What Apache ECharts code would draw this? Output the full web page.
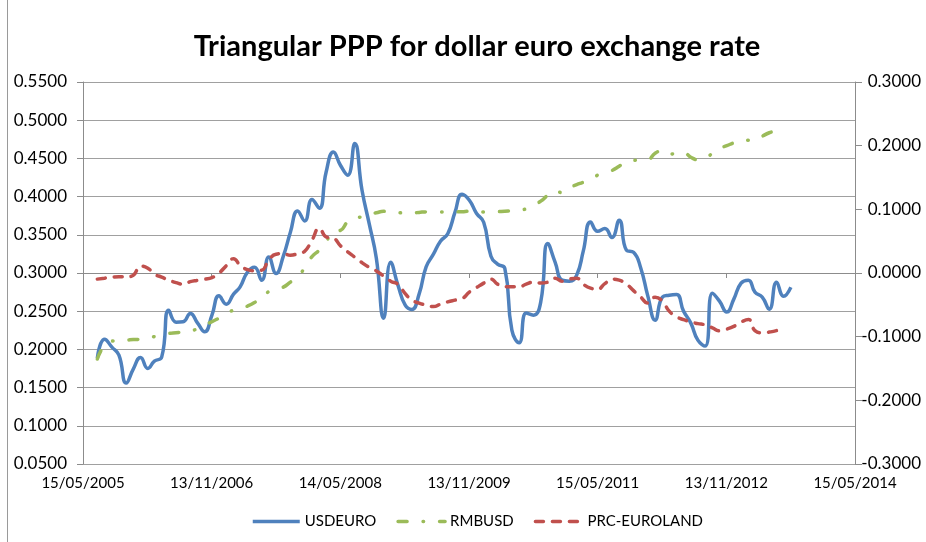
<!DOCTYPE html>
<html><head><meta charset="utf-8">
<script src="https://cdn.jsdelivr.net/npm/echarts@6/dist/echarts.min.js"></script>
<style>html,body{margin:0;padding:0;background:#fff}#c{width:926px;height:542px}</style>
</head><body><div id="c"></div>
<script>
const titleText = 'Triangular PPP for dollar euro exchange rate';
const seriesNames = ['USDEURO', 'RMBUSD', 'PRC-EUROLAND'];
const firstYear = 2005, firstMonthIndex = 6, monthCount = 98; // monthly from Jul 2005
const xTickLabels = ['15/05/2005','13/11/2006','14/05/2008','13/11/2009','15/05/2011','13/11/2012','15/05/2014'];
const leftTicks = { min: 0.05, max: 0.55, step: 0.05 };
const rightTicks = { min: -0.3, max: 0.3, step: 0.1 };

const usdEuro = [
0.1886,0.2134,0.2030,0.1925,0.1559,0.1742,0.1895,0.1751,0.1847,0.1899,
0.2514,0.2357,0.2361,0.2471,0.2344,0.2230,0.2448,0.2701,0.2592,0.2723,
0.2819,0.3011,0.3076,0.2906,0.3211,0.2994,0.3220,0.3534,0.3813,0.3682,
0.3962,0.3848,0.4319,0.4584,0.4410,0.4280,0.4694,0.4083,0.3639,0.3194,
0.2409,0.3142,0.2841,0.2579,0.2523,0.2723,0.3080,0.3246,0.3416,0.3514,
0.3796,0.4031,0.3953,0.3783,0.3665,0.3220,0.3116,0.3059,0.2252,0.2086,
0.2475,0.2448,0.2622,0.3386,0.3142,0.2906,0.2893,0.2972,0.3286,0.3669,
0.3547,0.3582,0.3465,0.3691,0.3299,0.3272,0.3063,0.2697,0.2383,0.2684,
0.2710,0.2719,0.2501,0.2344,0.2121,0.2043,0.2736,0.2632,0.2488,0.2658,
0.2867,0.2906,0.2749,0.2684,0.2527,0.2880,0.2697,0.2815];

const rmbUsd = [
-0.1352,-0.1132,-0.1070,-0.1062,-0.1054,-0.1046,-0.1038,-0.1015,-0.0999,-0.0975,
-0.0949,-0.0938,-0.0928,-0.0913,-0.0873,-0.0818,-0.0763,-0.0709,-0.0638,-0.0583,
-0.0556,-0.0520,-0.0465,-0.0379,-0.0293,-0.0253,-0.0222,-0.0144,-0.0065,0.0084,
0.0257,0.0359,0.0492,0.0652,0.0669,0.0806,0.0872,0.0881,0.0927,0.0947,
0.0968,0.0958,0.0947,0.0944,0.0944,0.0952,0.0960,0.0960,0.0960,0.0960,
0.0960,0.0963,0.0971,0.0963,0.0960,0.0960,0.0963,0.0971,0.0974,0.0982,
0.1010,0.1065,0.1128,0.1222,0.1292,0.1261,0.1340,0.1387,0.1426,0.1473,
0.1536,0.1578,0.1610,0.1677,0.1748,0.1768,0.1776,0.1782,0.1881,0.1920,
0.1865,0.1881,0.1892,0.1818,0.1779,0.1803,0.1881,0.1959,0.1999,0.2046,
0.2085,0.2085,0.2085,0.2148,0.2203,0.2234,0.2253];

const prcEuroland = [
-0.0096,-0.0081,-0.0065,-0.0060,-0.0060,-0.0034,0.0108,0.0076,-0.0018,-0.0065,
-0.0112,-0.0151,-0.0175,-0.0136,-0.0115,-0.0096,-0.0073,-0.0002,0.0115,0.0225,
0.0123,0.0053,0.0037,0.0045,0.0202,0.0296,0.0304,0.0280,0.0304,0.0343,
0.0516,0.0704,0.0567,0.0547,0.0429,0.0332,0.0249,0.0162,0.0089,0.0032,
-0.0049,-0.0128,-0.0178,-0.0324,-0.0426,-0.0473,-0.0504,-0.0528,-0.0489,-0.0453,
-0.0426,-0.0402,-0.0300,-0.0230,-0.0159,-0.0096,-0.0175,-0.0217,-0.0217,-0.0217,
-0.0175,-0.0144,-0.0159,-0.0144,-0.0081,-0.0128,-0.0096,-0.0081,-0.0175,-0.0238,
-0.0253,-0.0167,-0.0096,-0.0112,-0.0175,-0.0277,-0.0379,-0.0473,-0.0379,-0.0442,
-0.0599,-0.0688,-0.0732,-0.0771,-0.0795,-0.0815,-0.0862,-0.0908,-0.0881,-0.0839,
-0.0771,-0.0729,-0.0905,-0.0939,-0.0928,-0.0905,-0.0866];

function parseDMY(s){ const p = s.split('/').map(Number); return Date.UTC(p[2], p[1]-1, p[0]); }
const months = [];
for (let i = 0; i < monthCount; i++) {
  const k = firstMonthIndex + i;
  months.push(Date.UTC(firstYear + Math.floor(k / 12), k % 12, 15));
}
const xMin = parseDMY(xTickLabels[0]);
const xMax = parseDMY(xTickLabels[xTickLabels.length - 1]);
const xStep = (xMax - xMin) / (xTickLabels.length - 1);
const pairs = arr => arr.map((v, i) => [months[i], v]);
const fmt = v => (Math.abs(v) < 1e-9 ? 0 : v).toFixed(4);

const FONT = 'Lato';
const axisGray = '#8c8c8c';
const clear = 'rgba(0,0,0,0)';
const chart = echarts.init(document.getElementById('c'), null, { renderer: 'canvas' });
chart.setOption({
  animation: false,
  backgroundColor: '#fff',
  title: {
    text: titleText, left: 472, top: 27, textAlign: 'center',
    textStyle: { fontFamily: FONT, fontWeight: 'bold', fontSize: 29, color: '#000' }
  },
  graphic: [{ type: 'line', shape: { x1: 7.5, y1: 0, x2: 7.5, y2: 542 }, style: { stroke: '#9a9a9a', lineWidth: 1 } }],
  legend: {
    data: seriesNames, left: 251, top: 514, padding: 0, itemGap: 20, itemWidth: 47, itemHeight: 14,
    itemStyle: { color: clear, borderColor: clear, borderWidth: 0, opacity: 0 },
    lineStyle: { width: 3.5 },
    textStyle: { fontFamily: FONT, fontSize: 15, color: '#000' }
  },
  grid: { left: 83, right: 71, top: 82, bottom: 78, containLabel: false },
  xAxis: {
    type: 'value', min: xMin, max: xMax, interval: xStep,
    axisLine: { show: true, lineStyle: { color: axisGray, width: 1 } },
    axisTick: { show: true, length: 5, lineStyle: { color: axisGray } },
    splitLine: { show: false },
    axisLabel: {
      margin: 12, fontFamily: FONT, fontSize: 15, color: '#000',
      formatter: v => xTickLabels[Math.round((v - xMin) / xStep)] || ''
    }
  },
  yAxis: [{
    type: 'value', position: 'left', min: leftTicks.min, max: leftTicks.max, interval: leftTicks.step,
    axisLine: { show: true, lineStyle: { color: axisGray } },
    axisTick: { show: true, length: 6, lineStyle: { color: axisGray } },
    splitLine: { show: true, lineStyle: { color: '#a0a0a0', width: 1 } },
    axisLabel: { margin: 16, fontFamily: FONT, fontSize: 17, color: '#000', formatter: fmt }
  }, {
    type: 'value', position: 'right', min: rightTicks.min, max: rightTicks.max, interval: rightTicks.step,
    axisLine: { show: true, lineStyle: { color: axisGray } },
    axisTick: { show: true, length: 7, lineStyle: { color: axisGray } },
    splitLine: { show: false },
    axisLabel: { margin: 66, align: 'right', fontFamily: FONT, fontSize: 17, color: '#000', formatter: fmt }
  }],
  series: [{
    name: seriesNames[0], type: 'line', yAxisIndex: 0, data: pairs(usdEuro), smooth: 0.5,
    symbol: 'none', color: '#4F81BD',
    lineStyle: { color: '#4F81BD', width: 3.5 }
  }, {
    name: seriesNames[1], type: 'line', yAxisIndex: 1, data: pairs(rmbUsd), smooth: 0.5,
    symbol: 'none', color: '#9BBB59',
    lineStyle: { color: '#9BBB59', width: 3.5, type: [9, 16, 0.5, 16], cap: 'round' }
  }, {
    name: seriesNames[2], type: 'line', yAxisIndex: 1, data: pairs(prcEuroland), smooth: 0.5,
    symbol: 'none', color: '#C0504D',
    lineStyle: { color: '#C0504D', width: 3.5, type: [8, 9], cap: 'round' }
  }]
});
</script></body></html>
